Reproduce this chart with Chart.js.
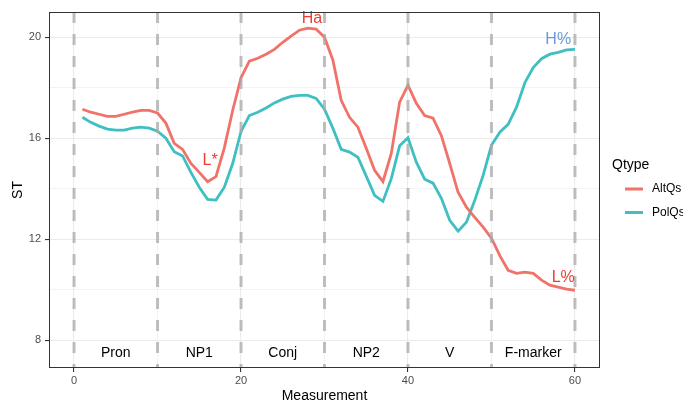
<!DOCTYPE html>
<html>
<head>
<meta charset="utf-8">
<script src="https://cdn.jsdelivr.net/npm/chart.js@4.4.1/dist/chart.umd.min.js"></script>
<style>
  html, body { margin: 0; padding: 0; background: #fff; }
  #wrap { width: 683px; height: 401px; position: relative; }
</style>
</head>
<body>
<div id="wrap"><canvas id="chart"></canvas></div>
<script>
// measurement points 1..60
const measurement = [
  1, 2, 3, 4, 5, 6, 7, 8, 9, 10, 11, 12, 13, 14, 15, 16, 17, 18, 19, 20,
  21, 22, 23, 24, 25, 26, 27, 28, 29, 30, 31, 32, 33, 34, 35, 36, 37, 38, 39, 40,
  41, 42, 43, 44, 45, 46, 47, 48, 49, 50, 51, 52, 53, 54, 55, 56, 57, 58, 59, 60,
];
const altQs = [
  17.15, 17.03, 16.95, 16.87, 16.87, 16.95, 17.03, 17.1, 17.1, 17.0,
  16.6, 15.8, 15.56, 15.0, 14.65, 14.28, 14.48, 15.62, 17.1, 18.4,
  19.05, 19.17, 19.33, 19.52, 19.8, 20.04, 20.28, 20.36, 20.32, 20.0,
  19.1, 17.5, 16.83, 16.44, 15.6, 14.73, 14.28, 15.4, 17.43, 18.1,
  17.38, 16.9, 16.8, 16.1, 15.0, 13.86, 13.27, 12.87, 12.48, 12.04,
  11.35, 10.77, 10.65, 10.7, 10.65, 10.38, 10.18, 10.1, 10.02, 9.98,
];
const polQs = [
  16.83, 16.63, 16.48, 16.36, 16.32, 16.32, 16.4, 16.44, 16.4, 16.28,
  16.0, 15.47, 15.3, 14.65, 14.06, 13.58, 13.55, 14.06, 15.0, 16.27,
  16.9, 17.03, 17.2, 17.4, 17.55, 17.66, 17.7, 17.7, 17.58, 17.15,
  16.4, 15.56, 15.45, 15.25, 14.5, 13.74, 13.5, 14.4, 15.7, 16.02,
  15.05, 14.38, 14.22, 13.62, 12.75, 12.32, 12.67, 13.54, 14.53, 15.72,
  16.24, 16.55, 17.23, 18.2, 18.8, 19.15, 19.33, 19.4, 19.5, 19.52,
];

const xTicks = [0, 10, 20, 30, 40, 50, 60];
const yTicks = [8, 10, 12, 14, 16, 18, 20];
const boundaries = [0, 10, 20, 30, 40, 50, 60];

const segmentLabels = ["Pron", "NP1", "Conj", "NP2", "V", "F-marker"];
const segmentX = [5, 15, 25, 35, 45, 55];
const segmentY = 7.5;

const toneLabels = ["L*", "Ha", "H%", "L%"];
const toneX = [16.3, 28.5, 58.0, 58.6];
const toneY = [15.1, 20.72, 19.9, 10.5];
const toneColors = ["#F03A32", "#F03A32", "#6A9AD6", "#F03A32"];

const FONT = "'Liberation Sans', Arial, sans-serif";

// vertical dashed lines, word labels, tone labels
const overlayPlugin = {
  id: "overlay",
  afterDatasetsDraw(chart) {
    const { ctx, chartArea, scales } = chart;
    const x = scales.x, y = scales.y;
    ctx.save();
    ctx.strokeStyle = "rgba(170,170,170,0.75)";
    ctx.lineWidth = 3;
    ctx.setLineDash([11, 11]);
    boundaries.forEach((b) => {
      const px = x.getPixelForValue(b);
      ctx.beginPath();
      ctx.moveTo(px, chartArea.top);
      ctx.lineTo(px, chartArea.bottom);
      ctx.stroke();
    });
    ctx.setLineDash([]);

    ctx.textAlign = "center";
    ctx.textBaseline = "middle";
    ctx.fillStyle = "#000";
    ctx.font = "14px " + FONT;
    segmentLabels.forEach((lab, i) => {
      ctx.fillText(lab, x.getPixelForValue(segmentX[i]), y.getPixelForValue(segmentY));
    });

    ctx.font = "16px " + FONT;
    toneLabels.forEach((lab, i) => {
      ctx.fillStyle = toneColors[i];
      ctx.fillText(lab, x.getPixelForValue(toneX[i]), y.getPixelForValue(toneY[i]));
    });
    ctx.restore();

    // panel border
    ctx.save();
    ctx.strokeStyle = "#333333";
    ctx.lineWidth = 1;
    ctx.strokeRect(chartArea.left + 0.5, chartArea.top + 0.5, chartArea.width - 1, chartArea.height - 1);
    ctx.restore();
  },
};

// ggplot style legend on the right
const legendPlugin = {
  id: "sideLegend",
  afterDraw(chart) {
    const { ctx } = chart;
    ctx.save();
    ctx.textBaseline = "middle";
    ctx.textAlign = "left";
    ctx.fillStyle = "#000";
    ctx.font = "14px " + FONT;
    ctx.fillText("Qtype", 612, 165);
    ctx.font = "12px " + FONT;
    chart.data.datasets.forEach((ds, i) => {
      const yy = 189 + i * 23.5;
      ctx.strokeStyle = ds.borderColor;
      ctx.lineWidth = 3;
      ctx.beginPath();
      ctx.moveTo(625, yy);
      ctx.lineTo(643, yy);
      ctx.stroke();
      ctx.fillStyle = "#000";
      ctx.fillText(ds.label, 652, yy);
    });
    ctx.restore();
  },
};

const ctx = document.getElementById("chart").getContext("2d");

new Chart(ctx, {
  type: "line",
  data: {
    datasets: [
      {
        label: "AltQs",
        data: measurement.map((m, i) => ({ x: m, y: altQs[i] })),
        borderColor: "#F07268",
        borderWidth: 2.8,
        pointRadius: 0,
        tension: 0,
        fill: false,
      },
      {
        label: "PolQs",
        data: measurement.map((m, i) => ({ x: m, y: polQs[i] })),
        borderColor: "#3FBFC2",
        borderWidth: 2.8,
        pointRadius: 0,
        tension: 0,
        fill: false,
      },
    ],
  },
  options: {
    responsive: true,
    maintainAspectRatio: false,
    animation: false,
    layout: { padding: { left: 0, right: 83, top: 12, bottom: 0 } },
    plugins: {
      legend: { display: false },
      tooltip: { enabled: false },
    },
    scales: {
      x: {
        type: "linear",
        min: -3,
        max: 63,
        afterBuildTicks: (scale) => {
          scale.ticks = xTicks.map((v) => ({ value: v }));
        },
        afterFit: (scale) => {
          scale.height = 33;
        },
        ticks: {
          autoSkip: false,
          maxRotation: 0,
          padding: 2,
          color: "#4D4D4D",
          font: { family: FONT, size: 11 },
          callback: (v) => (v % 20 === 0 ? String(v) : ""),
        },
        grid: {
          color: "#EBEBEB",
          lineWidth: (c) => (c.tick && c.tick.value % 20 === 0 ? 1.1 : 0.6),
          tickLength: 4,
          tickColor: (c) => (c.tick && c.tick.value % 20 === 0 ? "#333333" : "rgba(0,0,0,0)"),
        },
        border: { display: false },
        title: {
          display: true,
          text: "Measurement",
          color: "#000",
          font: { family: FONT, size: 14 },
          padding: { top: 0, bottom: -4 },
        },
      },
      y: {
        min: 6.9,
        max: 21,
        afterBuildTicks: (scale) => {
          scale.ticks = yTicks.map((v) => ({ value: v }));
        },
        afterFit: (scale) => {
          scale.width = 49;
        },
        ticks: {
          autoSkip: false,
          padding: 4,
          color: "#4D4D4D",
          font: { family: FONT, size: 11 },
          callback: (v) => (v % 4 === 0 ? String(v) : ""),
        },
        grid: {
          color: "#EBEBEB",
          lineWidth: (c) => (c.tick && c.tick.value % 4 === 0 ? 1.1 : 0.6),
          tickLength: 4,
          tickColor: (c) => (c.tick && c.tick.value % 4 === 0 ? "#333333" : "rgba(0,0,0,0)"),
        },
        border: { display: false },
        title: {
          display: true,
          text: "ST",
          color: "#000",
          font: { family: FONT, size: 14 },
          padding: { top: 10, bottom: 0 },
        },
      },
    },
  },
  plugins: [overlayPlugin, legendPlugin],
});
</script>
</body>
</html>
